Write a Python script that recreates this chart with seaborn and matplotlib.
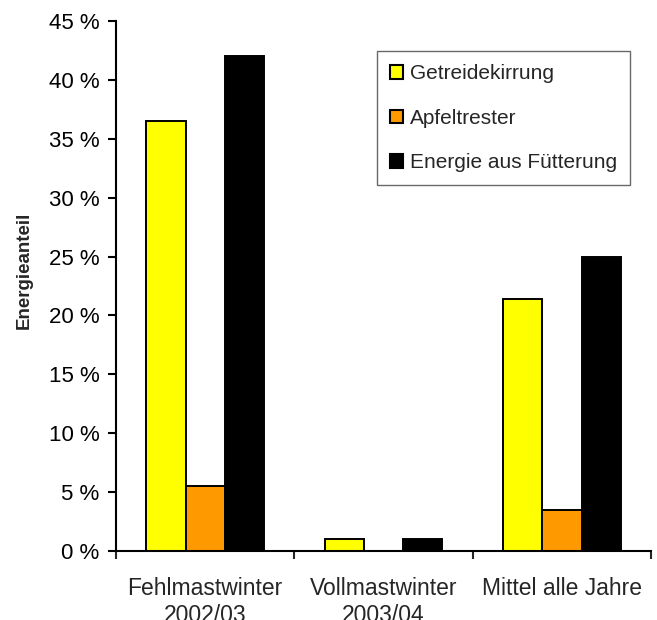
import matplotlib
matplotlib.use("Agg")
import matplotlib.pyplot as plt
import matplotlib.ticker as mticker
import seaborn as sns
import pandas as pd

categories = ["Fehlmastwinter\n2002/03", "Vollmastwinter\n2003/04", "Mittel alle Jahre"]
series = ["Getreidekirrung", "Apfeltrester", "Energie aus Fütterung"]
getreide = [36.5, 1.0, 21.4]
apfel = [5.5, 0.0, 3.5]
fuetterung = [42.0, 1.0, 25.0]
colors = ["#FFFF00", "#FF9900", "#000000"]
y_ticks = [0, 5, 10, 15, 20, 25, 30, 35, 40, 45]

rows = []
for name, vals in zip(series, [getreide, apfel, fuetterung]):
    for cat, v in zip(categories, vals):
        rows.append({"Kategorie": cat, "Reihe": name, "Anteil": v})
df = pd.DataFrame(rows)

sns.set_style("white")
plt.rcParams["font.family"] = ["Liberation Sans", "DejaVu Sans"]

fig = plt.figure(figsize=(6.57, 6.2), dpi=100)
ax = fig.add_axes([0.1766, 0.1113, 0.8144, 0.8549])

sns.barplot(data=df, x="Kategorie", y="Anteil", hue="Reihe",
            order=categories, hue_order=series, palette=colors,
            width=0.66, gap=0, edgecolor="black", linewidth=1.4,
            saturation=1, errorbar=None, ax=ax)

ax.set_ylim(0, 45)
ax.set_xlim(-0.5, 2.5)
ax.set_yticks(y_ticks)
ax.yaxis.set_major_formatter(mticker.FuncFormatter(lambda v, p: f"{int(v)} %"))
ax.tick_params(axis="y", labelsize=16, length=6, width=1.5, direction="out",
               left=True, pad=6, colors="black")

# category labels centred, tick marks between the categories
ax.set_xticks([0, 1, 2])
ax.set_xticklabels(categories, fontsize=16.5, linespacing=1.2)
ax.set_xticks([-0.5, 0.5, 1.5, 2.5], minor=True)
ax.tick_params(axis="x", which="major", length=0, pad=19)
ax.tick_params(axis="x", which="minor", length=6, width=1.5, direction="out", bottom=True)

ax.set_xlabel("")
ax.set_ylabel("Energieanteil", fontsize=13.5, fontweight="bold",
              va="center", ha="center")
ax.yaxis.set_label_coords(-0.172, 0.53)

for side in ["top", "right"]:
    ax.spines[side].set_visible(False)
for side in ["left", "bottom"]:
    ax.spines[side].set_color("black")
    ax.spines[side].set_linewidth(1.5)

handles, labels = ax.get_legend_handles_labels()
leg = ax.legend(handles, labels, loc="upper left",
                bbox_to_anchor=(0.574, 0.917), bbox_transform=fig.transFigure,
                fontsize=15, frameon=True, fancybox=False,
                handlelength=0.64, handleheight=0.64, handletextpad=0.3,
                labelspacing=1.22, borderpad=0.62, borderaxespad=0)
leg.get_frame().set_edgecolor("#444444")
leg.get_frame().set_linewidth(1.0)
for h in leg.legend_handles:
    h.set_edgecolor("black")
    h.set_linewidth(1.5)

fig.savefig("out.png", dpi=100)
